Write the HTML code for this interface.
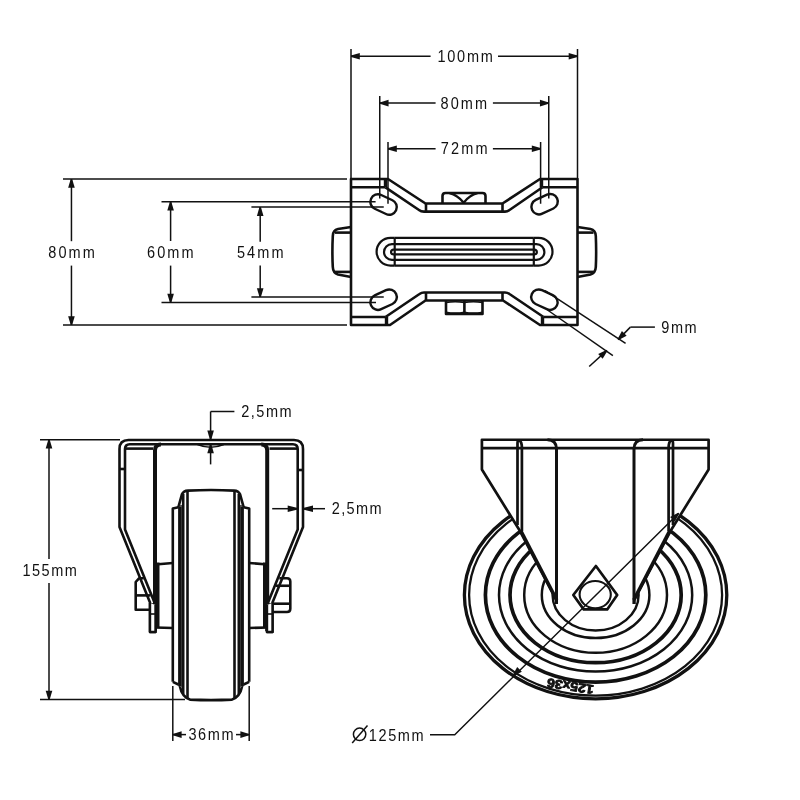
<!DOCTYPE html>
<html><head><meta charset="utf-8"><style>
html,body{margin:0;padding:0;background:#fff;}
svg{display:block;will-change:transform;}
text{font-family:"Liberation Sans",sans-serif;fill:#111;stroke:none;}
</style></head><body>
<svg width="800" height="800" viewBox="0 0 800 800" stroke="#111" stroke-linecap="butt" stroke-linejoin="round" fill="none">
<rect x="0" y="0" width="800" height="800" fill="#fff" stroke="none"/>
<line x1="351.00" y1="49.00" x2="351.00" y2="179.00" stroke-width="1.5"/>
<line x1="577.50" y1="49.00" x2="577.50" y2="179.00" stroke-width="1.5"/>
<line x1="351.00" y1="56.30" x2="430.60" y2="56.30" stroke-width="1.5"/>
<line x1="498.00" y1="56.30" x2="577.50" y2="56.30" stroke-width="1.5"/>
<polygon points="351.00,55.60 359.80,53.00 359.80,59.60 351.00,57.00" fill="#111" stroke="none"/>
<polygon points="577.50,57.00 568.70,59.60 568.70,53.00 577.50,55.60" fill="#111" stroke="none"/>
<line x1="379.75" y1="96.00" x2="379.75" y2="198.40" stroke-width="1.5"/>
<line x1="548.75" y1="96.00" x2="548.75" y2="198.40" stroke-width="1.5"/>
<line x1="379.75" y1="103.10" x2="435.60" y2="103.10" stroke-width="1.5"/>
<line x1="492.90" y1="103.10" x2="548.75" y2="103.10" stroke-width="1.5"/>
<polygon points="379.75,102.40 388.55,99.80 388.55,106.40 379.75,103.80" fill="#111" stroke="none"/>
<polygon points="548.75,103.80 539.95,106.40 539.95,99.80 548.75,102.40" fill="#111" stroke="none"/>
<line x1="388.00" y1="142.00" x2="388.00" y2="203.75" stroke-width="1.5"/>
<line x1="540.60" y1="142.00" x2="540.60" y2="203.75" stroke-width="1.5"/>
<line x1="388.00" y1="148.75" x2="435.60" y2="148.75" stroke-width="1.5"/>
<line x1="492.90" y1="148.75" x2="540.60" y2="148.75" stroke-width="1.5"/>
<polygon points="388.00,148.05 396.80,145.45 396.80,152.05 388.00,149.45" fill="#111" stroke="none"/>
<polygon points="540.60,149.45 531.80,152.05 531.80,145.45 540.60,148.05" fill="#111" stroke="none"/>
<line x1="63.00" y1="179.00" x2="347.00" y2="179.00" stroke-width="1.5"/>
<line x1="63.00" y1="325.00" x2="347.00" y2="325.00" stroke-width="1.5"/>
<line x1="71.45" y1="179.00" x2="71.45" y2="241.20" stroke-width="1.5"/>
<line x1="71.45" y1="265.60" x2="71.45" y2="325.00" stroke-width="1.5"/>
<polygon points="72.15,179.00 74.75,187.80 68.15,187.80 70.75,179.00" fill="#111" stroke="none"/>
<polygon points="70.75,325.00 68.15,316.20 74.75,316.20 72.15,325.00" fill="#111" stroke="none"/>
<line x1="161.50" y1="201.80" x2="375.60" y2="201.80" stroke-width="1.5"/>
<line x1="161.50" y1="302.50" x2="376.00" y2="302.50" stroke-width="1.5"/>
<line x1="170.60" y1="201.80" x2="170.60" y2="241.00" stroke-width="1.5"/>
<line x1="170.60" y1="265.60" x2="170.60" y2="302.50" stroke-width="1.5"/>
<polygon points="171.30,201.80 173.90,210.60 167.30,210.60 169.90,201.80" fill="#111" stroke="none"/>
<polygon points="169.90,302.50 167.30,293.70 173.90,293.70 171.30,302.50" fill="#111" stroke="none"/>
<line x1="251.40" y1="207.10" x2="383.75" y2="207.10" stroke-width="1.5"/>
<line x1="251.40" y1="297.00" x2="383.75" y2="297.00" stroke-width="1.5"/>
<line x1="260.20" y1="207.10" x2="260.20" y2="241.70" stroke-width="1.5"/>
<line x1="260.20" y1="265.60" x2="260.20" y2="297.00" stroke-width="1.5"/>
<polygon points="260.90,207.10 263.50,215.90 256.90,215.90 259.50,207.10" fill="#111" stroke="none"/>
<polygon points="259.50,297.00 256.90,288.20 263.50,288.20 260.90,297.00" fill="#111" stroke="none"/>
<path d="M351,325 L351,179 L388,179 L425.5,203.5 L502.5,203.5 L540,179 L577.5,179 L577.5,325 L540,325 L503,300.5 L425.5,300.5 L390,325 Z" stroke-width="2.6" fill="none"/>
<line x1="351.00" y1="187.30" x2="385.50" y2="187.30" stroke-width="2.6"/>
<line x1="542.50" y1="187.30" x2="577.50" y2="187.30" stroke-width="2.6"/>
<line x1="385.50" y1="179.00" x2="385.50" y2="187.30" stroke-width="3.4000000000000004"/>
<line x1="541.50" y1="179.00" x2="541.50" y2="187.30" stroke-width="3.4000000000000004"/>
<path d="M385.5,187.3 L419,210 Q421,211.6 424,211.6 L505,211.6 Q507.5,211.6 509.5,210 L542.5,187.3" stroke-width="2.6" fill="none"/>
<line x1="426.00" y1="203.50" x2="426.00" y2="211.60" stroke-width="2.6"/>
<line x1="502.50" y1="203.50" x2="502.50" y2="211.60" stroke-width="2.6"/>
<line x1="351.00" y1="317.00" x2="385.50" y2="317.00" stroke-width="2.6"/>
<line x1="543.50" y1="317.00" x2="577.50" y2="317.00" stroke-width="2.6"/>
<line x1="386.50" y1="317.00" x2="386.50" y2="325.00" stroke-width="3.4000000000000004"/>
<line x1="542.50" y1="317.00" x2="542.50" y2="325.00" stroke-width="3.4000000000000004"/>
<path d="M385.5,317 L419.5,294 Q421.5,292.5 424,292.5 L505,292.5 Q507.5,292.5 509.5,294 L543.5,317" stroke-width="2.6" fill="none"/>
<line x1="426.00" y1="292.50" x2="426.00" y2="300.50" stroke-width="2.6"/>
<line x1="502.50" y1="292.50" x2="502.50" y2="300.50" stroke-width="2.6"/>
<path d="M442.5,203.5 L442.5,196 Q442.5,193 445.5,193 L482.5,193 Q485.5,193 485.5,196 L485.5,203.5" stroke-width="2.6" fill="none"/>
<path d="M449.5,193.2 Q457.5,195 463.7,202.8 Q469.5,195 477.5,193.2" stroke-width="2.4" fill="none"/>
<path d="M446,300.5 L446,314 L482.5,314 L482.5,300.5" stroke-width="2.6" fill="none"/>
<line x1="464.40" y1="300.50" x2="464.40" y2="314.00" stroke-width="2.6"/>
<path d="M446,302.6 Q455.2,300.8 464.4,302.6 Q473.3,300.8 482.5,302.6" stroke-width="1.5" fill="none"/>
<path d="M446,312.2 Q455.2,314 464.4,312.2 Q473.3,314 482.5,312.2" stroke-width="1.5" fill="none"/>
<path d="M351,227 L338,229 Q333,230 332.8,236 Q332,252 332.8,267 Q333,273 338,274.5 L351,277" stroke-width="2.6" fill="none"/>
<line x1="335.00" y1="232.60" x2="351.00" y2="232.60" stroke-width="2.6"/>
<line x1="335.00" y1="271.90" x2="351.00" y2="271.90" stroke-width="2.6"/>
<path d="M577.5,227 L590.5,229 Q595.5,230 595.8,236 Q596.5,252 595.8,267 Q595.5,273 590.5,274.5 L577.5,277" stroke-width="2.6" fill="none"/>
<line x1="577.50" y1="232.60" x2="593.50" y2="232.60" stroke-width="2.6"/>
<line x1="577.50" y1="271.90" x2="593.50" y2="271.90" stroke-width="2.6"/>
<path d="M394.7,237.8 L390.5,237.8 A13.9,13.9 0 0 0 390.5,265.6 L394.7,265.6" stroke-width="2.2" fill="none"/>
<path d="M394.7,244.1 L391.9,244.1 A7.9,7.9 0 0 0 391.9,259.9 L394.7,259.9" stroke-width="2.2" fill="none"/>
<path d="M394.7,249.7 L393.4,249.7 A2.35,2.35 0 0 0 393.4,254.4 L394.7,254.4" stroke-width="2.2" fill="none"/>
<path d="M533.8,237.8 L538.6,237.8 A13.9,13.9 0 0 1 538.6,265.6 L533.8,265.6" stroke-width="2.2" fill="none"/>
<path d="M533.8,244.1 L536.5,244.1 A7.9,7.9 0 0 1 536.5,259.9 L533.8,259.9" stroke-width="2.2" fill="none"/>
<path d="M533.8,249.7 L534.5,249.7 A2.35,2.35 0 0 1 534.5,254.4 L533.8,254.4" stroke-width="2.2" fill="none"/>
<line x1="394.70" y1="237.80" x2="394.70" y2="265.60" stroke-width="2.2"/>
<line x1="533.80" y1="237.80" x2="533.80" y2="265.60" stroke-width="2.2"/>
<line x1="394.70" y1="237.80" x2="533.80" y2="237.80" stroke-width="2.2"/>
<line x1="394.70" y1="244.10" x2="533.80" y2="244.10" stroke-width="2.2"/>
<line x1="394.70" y1="249.70" x2="533.80" y2="249.70" stroke-width="2.2"/>
<line x1="394.70" y1="254.40" x2="533.80" y2="254.40" stroke-width="2.2"/>
<line x1="394.70" y1="259.90" x2="533.80" y2="259.90" stroke-width="2.2"/>
<line x1="394.70" y1="265.60" x2="533.80" y2="265.60" stroke-width="2.2"/>
<g transform="translate(383.6,204.5) rotate(25)"><path d="M-6.2,-7.6 L6.2,-7.6 A7.6,7.6 0 0 1 6.2,7.6 L-6.2,7.6 A7.6,7.6 0 0 1 -6.2,-7.6 Z" stroke-width="2.4" fill="none"/></g>
<g transform="translate(544.6,204.2) rotate(-25)"><path d="M-6.2,-7.6 L6.2,-7.6 A7.6,7.6 0 0 1 6.2,7.6 L-6.2,7.6 A7.6,7.6 0 0 1 -6.2,-7.6 Z" stroke-width="2.4" fill="none"/></g>
<g transform="translate(383.6,299.7) rotate(-25)"><path d="M-6.2,-7.6 L6.2,-7.6 A7.6,7.6 0 0 1 6.2,7.6 L-6.2,7.6 A7.6,7.6 0 0 1 -6.2,-7.6 Z" stroke-width="2.4" fill="none"/></g>
<g transform="translate(544.4,299.7) rotate(25)"><path d="M-6.2,-7.6 L6.2,-7.6 A7.6,7.6 0 0 1 6.2,7.6 L-6.2,7.6 A7.6,7.6 0 0 1 -6.2,-7.6 Z" stroke-width="2.4" fill="none"/></g>
<line x1="545.00" y1="290.60" x2="625.60" y2="343.40" stroke-width="1.5"/>
<line x1="547.50" y1="310.00" x2="612.90" y2="355.60" stroke-width="1.5"/>
<polygon points="617.60,339.11 621.92,331.01 626.62,335.64 618.60,340.09" fill="#111" stroke="none"/>
<line x1="618.10" y1="339.60" x2="630.40" y2="327.10" stroke-width="1.5"/>
<line x1="630.40" y1="327.10" x2="654.90" y2="327.10" stroke-width="1.5"/>
<polygon points="607.37,350.92 602.61,358.76 598.17,353.88 606.43,349.88" fill="#111" stroke="none"/>
<line x1="606.90" y1="350.40" x2="589.20" y2="366.50" stroke-width="1.5"/>
<text transform="translate(437.4,62.3) scale(0.88,1)" x="0" y="0" font-size="16.5" textLength="63.07" lengthAdjust="spacing" >100mm</text>
<text transform="translate(440.59999999999997,109) scale(0.88,1)" x="0" y="0" font-size="16.5" textLength="52.84" lengthAdjust="spacing" >80mm</text>
<text transform="translate(440.7,154.4) scale(0.88,1)" x="0" y="0" font-size="16.5" textLength="53.41" lengthAdjust="spacing" >72mm</text>
<text transform="translate(48.3,258.2) scale(0.88,1)" x="0" y="0" font-size="16.5" textLength="52.84" lengthAdjust="spacing" >80mm</text>
<text transform="translate(147.1,258.2) scale(0.88,1)" x="0" y="0" font-size="16.5" textLength="52.84" lengthAdjust="spacing" >60mm</text>
<text transform="translate(237.0,258.2) scale(0.88,1)" x="0" y="0" font-size="16.5" textLength="52.84" lengthAdjust="spacing" >54mm</text>
<text transform="translate(661.3,333.3) scale(0.88,1)" x="0" y="0" font-size="16.5" textLength="40.11" lengthAdjust="spacing" >9mm</text>
<line x1="40.00" y1="439.75" x2="120.00" y2="439.75" stroke-width="1.5"/>
<line x1="40.00" y1="699.50" x2="185.00" y2="699.50" stroke-width="1.5"/>
<line x1="49.00" y1="439.75" x2="49.00" y2="559.00" stroke-width="1.5"/>
<line x1="49.00" y1="583.00" x2="49.00" y2="699.50" stroke-width="1.5"/>
<polygon points="49.70,439.75 52.30,448.55 45.70,448.55 48.30,439.75" fill="#111" stroke="none"/>
<polygon points="48.30,699.50 45.70,690.70 52.30,690.70 49.70,699.50" fill="#111" stroke="none"/>
<line x1="210.60" y1="411.50" x2="234.40" y2="411.50" stroke-width="1.5"/>
<line x1="210.60" y1="411.50" x2="210.60" y2="439.50" stroke-width="1.5"/>
<polygon points="209.90,439.50 207.30,430.50 213.90,430.50 211.30,439.50" fill="#111" stroke="none"/>
<line x1="210.60" y1="444.30" x2="210.60" y2="464.40" stroke-width="1.5"/>
<polygon points="211.30,444.30 213.90,453.30 207.30,453.30 209.90,444.30" fill="#111" stroke="none"/>
<path d="M197.5,444.5 Q210.6,450 223.75,444.5" stroke-width="1.6" fill="none"/>
<path d="M119.5,527 L119.5,449 Q119.5,440 128.5,440 L294,440 Q303,440 303,449 L303,527 L272.5,602.5 L272.5,632 L267,632 L267,605 L297.7,529.4 L297.7,449 Q297.7,444.2 292.9,444.2 L129.8,444.2 Q125,444.2 125,449 L125,529.4 L155.5,605 L155.5,632 L150,632 L150,602.5 Z" stroke-width="2.6" fill="none"/>
<line x1="125.00" y1="448.60" x2="153.00" y2="448.60" stroke-width="2.6"/>
<line x1="269.50" y1="448.60" x2="297.70" y2="448.60" stroke-width="2.6"/>
<line x1="119.50" y1="469.00" x2="125.00" y2="469.00" stroke-width="2.6"/>
<line x1="297.70" y1="470.00" x2="303.00" y2="470.00" stroke-width="2.6"/>
<line x1="150.00" y1="604.00" x2="155.50" y2="604.00" stroke-width="1.6"/>
<line x1="150.00" y1="614.00" x2="155.50" y2="614.00" stroke-width="1.6"/>
<line x1="267.00" y1="604.00" x2="272.50" y2="604.00" stroke-width="1.6"/>
<line x1="267.00" y1="614.00" x2="272.50" y2="614.00" stroke-width="1.6"/>
<path d="M155.0,631 L155.0,450.5 Q155.0,444.6 160.9,444.6" stroke-width="4.0" fill="none"/>
<line x1="158.00" y1="562.50" x2="158.00" y2="627.50" stroke-width="3.0"/>
<path d="M267.2,631 L267.2,450.5 Q267.2,444.6 261.3,444.6" stroke-width="4.0" fill="none"/>
<line x1="264.50" y1="562.50" x2="264.50" y2="627.50" stroke-width="3.0"/>
<path d="M150,603 L150,632 L155.5,632 L155.5,605" fill="#fff" stroke-width="2.4"/>
<path d="M272.5,603 L272.5,632 L267,632 L267,605" fill="#fff" stroke-width="2.4"/>
<line x1="150.00" y1="614.00" x2="155.50" y2="614.00" stroke-width="1.6"/>
<line x1="267.00" y1="614.00" x2="272.50" y2="614.00" stroke-width="1.6"/>
<path d="M155.2,564.5 L172.8,563 M155.2,627.5 L172.8,628" stroke-width="2.6" fill="none"/>
<path d="M267.6,564.5 L249.2,563 M267.6,627.5 L249.2,628" stroke-width="2.6" fill="none"/>
<path d="M143.8,578.3 L139,578.3 L135.7,582 L135.7,609.8 L150,609.8" stroke-width="2.6" fill="none"/>
<line x1="135.70" y1="595.40" x2="150.50" y2="595.40" stroke-width="2.6"/>
<path d="M279.3,578.3 L287,578.3 Q290.3,578.3 290.3,581.5 L290.3,608.8 Q290.3,612 287,612 L272.5,612" stroke-width="2.6" fill="none"/>
<line x1="276.00" y1="585.75" x2="290.30" y2="585.75" stroke-width="2.6"/>
<line x1="273.00" y1="603.70" x2="290.30" y2="603.70" stroke-width="2.6"/>
<path d="M172.8,681.8 L172.8,508.4 L178.4,507.2" stroke-width="2.6" fill="none"/>
<path d="M249.2,681.8 L249.2,508.4 L243.6,507.2" stroke-width="2.6" fill="none"/>
<path d="M172.8,681.8 L178.4,684.5" stroke-width="2.6" fill="none"/>
<path d="M249.2,681.8 L243.6,684.5" stroke-width="2.6" fill="none"/>
<path d="M178.4,507.2 L181.9,494.4 Q183.5,490.8 188,490.6 Q211,489.3 234,490.6 Q238.5,490.8 240.1,494.4 L243.6,507.2" stroke-width="2.6" fill="none"/>
<path d="M179.8,507 L179.8,686 Q182,697 190,699.6 Q211,700.6 232,699.6 Q240,697 242.2,686 L242.2,507" stroke-width="2.6" fill="none"/>
<rect x="179.8" y="505" width="3.4" height="182" fill="#555" stroke="none"/>
<rect x="238.8" y="505" width="3.4" height="182" fill="#555" stroke="none"/>
<line x1="179.80" y1="507.00" x2="179.80" y2="686.00" stroke-width="3.2"/>
<line x1="242.20" y1="507.00" x2="242.20" y2="686.00" stroke-width="3.2"/>
<line x1="183.20" y1="494.00" x2="183.20" y2="694.00" stroke-width="2.6"/>
<line x1="238.80" y1="494.00" x2="238.80" y2="694.00" stroke-width="2.6"/>
<line x1="187.50" y1="491.00" x2="187.50" y2="699.00" stroke-width="2.6"/>
<line x1="234.50" y1="491.00" x2="234.50" y2="699.00" stroke-width="2.6"/>
<line x1="272.20" y1="508.70" x2="298.00" y2="508.70" stroke-width="1.5"/>
<polygon points="297.70,509.40 287.70,512.00 287.70,505.40 297.70,508.00" fill="#111" stroke="none"/>
<line x1="303.00" y1="508.70" x2="325.00" y2="508.70" stroke-width="1.5"/>
<polygon points="303.00,508.00 313.00,505.40 313.00,512.00 303.00,509.40" fill="#111" stroke="none"/>
<line x1="172.80" y1="686.00" x2="172.80" y2="741.00" stroke-width="1.5"/>
<line x1="249.20" y1="686.00" x2="249.20" y2="741.00" stroke-width="1.5"/>
<line x1="172.80" y1="734.60" x2="186.00" y2="734.60" stroke-width="1.5"/>
<line x1="236.00" y1="734.60" x2="249.20" y2="734.60" stroke-width="1.5"/>
<polygon points="172.80,733.90 181.60,731.30 181.60,737.90 172.80,735.30" fill="#111" stroke="none"/>
<polygon points="249.20,735.30 240.40,737.90 240.40,731.30 249.20,733.90" fill="#111" stroke="none"/>
<text transform="translate(241.20000000000002,417) scale(0.88,1)" x="0" y="0" font-size="16.5" textLength="57.39" lengthAdjust="spacing" >2,5mm</text>
<text transform="translate(331.7,514.4) scale(0.88,1)" x="0" y="0" font-size="16.5" textLength="56.82" lengthAdjust="spacing" >2,5mm</text>
<text transform="translate(22.4,575.5) scale(0.88,1)" x="0" y="0" font-size="16.5" textLength="61.93" lengthAdjust="spacing" >155mm</text>
<text transform="translate(188.4,740.3) scale(0.88,1)" x="0" y="0" font-size="16.5" textLength="51.36" lengthAdjust="spacing" >36mm</text>
<text transform="translate(368.7,740.7) scale(0.88,1)" x="0" y="0" font-size="16.5" textLength="62.50" lengthAdjust="spacing" >125mm</text>
<ellipse cx="595.6" cy="595" rx="131.2" ry="103.8" stroke-width="3.3"/>
<ellipse cx="595.6" cy="595" rx="126.5" ry="100.6" stroke-width="2.3"/>
<ellipse cx="595.6" cy="595" rx="110.2" ry="87.1" stroke-width="3.7"/>
<ellipse cx="595.6" cy="595" rx="96.6" ry="76.6" stroke-width="2.5"/>
<ellipse cx="595.6" cy="595" rx="85.6" ry="67.7" stroke-width="3.7"/>
<ellipse cx="595.6" cy="595" rx="71.4" ry="57.8" stroke-width="2.5"/>
<ellipse cx="595.6" cy="595" rx="53.8" ry="43" stroke-width="2.5"/>
<ellipse cx="595.6" cy="595" rx="43" ry="35.5" stroke-width="2.5"/>
<path d="M481.9,439.75 L708.6,439.75 L708.6,469.5 L670.5,531 L634.2,600 L634.2,606 L556.3,606 L556.3,600 L520,531 L481.9,469.5 Z" fill="#fff" stroke="none"/>
<path d="M556.3,604 L556.3,600 L520,531 L481.9,469.5 L481.9,439.75 L708.6,439.75 L708.6,469.5 L670.5,531 L634.2,600 L634.2,604" stroke-width="2.7" fill="none"/>
<path d="M521,531 L556.8,600" stroke-width="3.4" fill="none"/>
<path d="M669.5,531 L633.7,600" stroke-width="3.4" fill="none"/>
<line x1="481.90" y1="448.10" x2="708.60" y2="448.10" stroke-width="2.7"/>
<path d="M517.5,525 L517.5,443 Q517.5,440 519.5,440.5 Q521.9,442 521.9,448 L521.9,531" stroke-width="2.7" fill="none"/>
<path d="M673,525 L673,443 Q673,440 671,440.5 Q668.6,442 668.6,448 L668.6,531" stroke-width="2.7" fill="none"/>
<path d="M547.5,439.75 Q556.5,440 556.5,449 L556.5,604" stroke-width="3.0" fill="none"/>
<path d="M643,439.75 Q634,440 634,449 L634,604" stroke-width="3.0" fill="none"/>
<path d="M595.9,566 L617.2,595 L607.2,609.4 L583.7,609.4 L573.3,595 Z" stroke-width="2.7" fill="none"/>
<ellipse cx="595.2" cy="594.6" rx="15.6" ry="13.6" stroke-width="2.1"/>
<path d="M430,734.7 L454.75,734.7 L678.7,513.2" stroke-width="1.5" fill="none"/>
<polygon points="679.19,513.70 674.76,521.73 670.12,517.04 678.21,512.70" fill="#111" stroke="none"/>
<polygon points="512.76,675.00 517.19,666.97 521.83,671.66 513.74,676.00" fill="#111" stroke="none"/>
<circle cx="359.6" cy="734.3" r="6.2" stroke-width="1.5"/>
<line x1="352.20" y1="743.00" x2="367.50" y2="725.50" stroke-width="1.5"/>
<text transform="translate(570.3,686.3) rotate(189)" font-size="12.8" font-weight="bold" text-anchor="middle" dominant-baseline="central" textLength="47" lengthAdjust="spacingAndGlyphs" style="stroke:#111;stroke-width:0.9">125x36</text>
</svg></body></html>
